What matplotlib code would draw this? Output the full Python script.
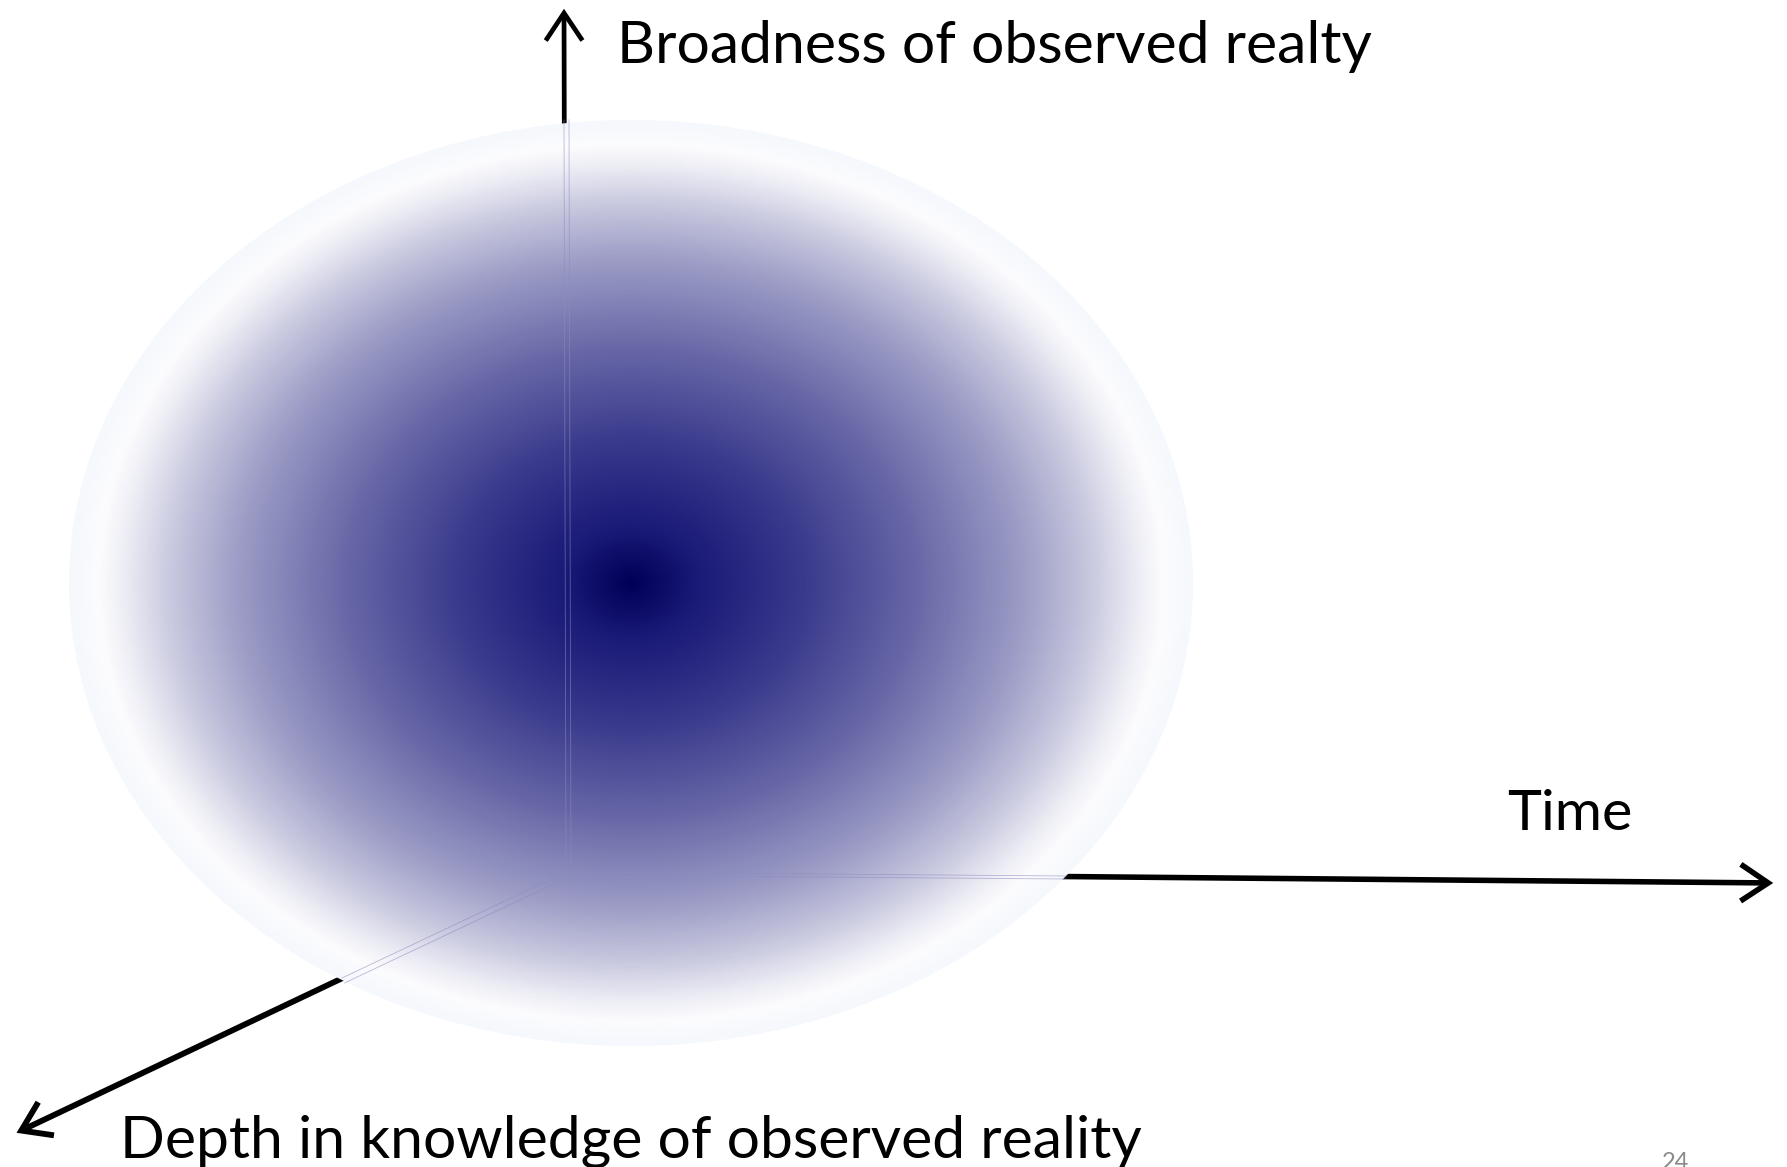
import numpy as np
import matplotlib
matplotlib.use("Agg")
import matplotlib.pyplot as plt
from matplotlib.patches import Ellipse, FancyArrowPatch
from matplotlib.colors import LinearSegmentedColormap

W, H, DPI = 1787, 1167, 100

# ---- content ----
axis_labels = ["Broadness of observed realty", "Time",
               "Depth in knowledge of observed reality"]
page_number = "24"

# ---- geometry (pixel coords, y downward) ----
origin = (566, 872)
arrow_tips = [(564, 6), (1776, 883), (14, 1134)]
arrow_widths = [3.4, 4.0, 4.2]
sphere_center = (631, 583)
sphere_radii = (562, 463)

label_pos = [(617, 63), (1507, 830), (120, 1157)]
label_width = [754, 125, 1020]

# radial gradient stops (normalised radius -> colour)
grad_r = [0.0, 0.12, 0.3, 0.5, 0.7, 0.82, 0.9, 0.95, 1.0]
grad_c = ["#000058", "#1a1a78", "#38388c", "#6565a6", "#9c9cc6",
          "#c8c8df", "#ebebf4", "#fcfcfe", "#f5f8fc"]

fig = plt.figure(figsize=(W / DPI, H / DPI), dpi=DPI)
ax = fig.add_axes([0, 0, 1, 1])
ax.set_xlim(0, W)
ax.set_ylim(H, 0)
ax.axis("off")

# ---- arrows (behind the sphere) ----
for tip, lw in zip(arrow_tips, arrow_widths):
    ar = FancyArrowPatch(origin, tip,
                         arrowstyle="->,head_length=0.9,head_width=0.6",
                         mutation_scale=22, lw=lw, color="black",
                         capstyle="butt", joinstyle="miter", zorder=1)
    ax.add_patch(ar)

# ---- shaded sphere ----
cx, cy = sphere_center
rx, ry = sphere_radii
xs = np.linspace(cx - rx, cx + rx, 900)
ys = np.linspace(cy - ry, cy + ry, 750)
X, Y = np.meshgrid(xs, ys)
R = np.sqrt(((X - cx) / rx) ** 2 + ((Y - cy) / ry) ** 2)
cmap = LinearSegmentedColormap.from_list(
    "sphere", list(zip(grad_r, grad_c)))
img = ax.imshow(np.clip(R, 0, 1), cmap=cmap, vmin=0, vmax=1,
                extent=(cx - rx, cx + rx, cy + ry, cy - ry),
                interpolation="bilinear", zorder=2)
clip = Ellipse(sphere_center, 2 * rx, 2 * ry, transform=ax.transData,
               facecolor="none", edgecolor="none")
ax.add_patch(clip)
img.set_clip_path(clip)

# ---- faint edges of the axes seen through the sphere ----
edge_kw = dict(color="#8c8cc0", lw=0.6, alpha=0.6, zorder=3)
ox, oy = origin
for d in (0, 5):
    ax.plot([arrow_tips[0][0] + d, ox + d], [cy - ry, oy], **edge_kw)
    ax.plot([ox + d, 1066], [oy + d * 0.6, 876 + d * 0.6], **edge_kw)
    ax.plot([ox + d * 0.5, 342 + d * 0.5], [oy + d, 978 + d], **edge_kw)

# ---- labels ----
renderer = fig.canvas.get_renderer()
for s, (x, y), tw in zip(axis_labels, label_pos, label_width):
    t = ax.text(x, y, s, fontsize=40, family="Lato", color="black",
                ha="left", va="baseline", zorder=5)
    bb = t.get_window_extent(renderer=renderer)
    t.set_fontsize(40 * tw / bb.width)

# page number, partly cut by the bottom edge as in the reference
ax.text(1662, 1152, page_number, fontsize=17, family="Lato",
        color="#8a8a8a", ha="left", va="top", zorder=5)

fig.savefig("out.png", dpi=DPI)
